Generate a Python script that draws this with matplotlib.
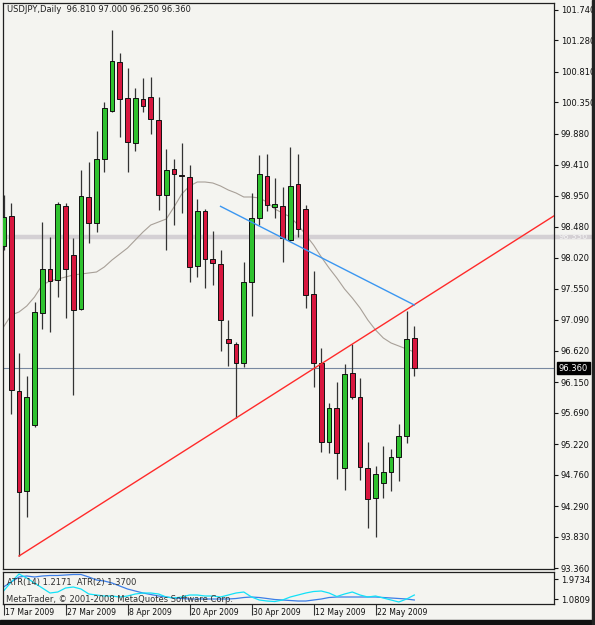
import matplotlib
matplotlib.use("agg")
import matplotlib.pyplot as plt
import matplotlib.transforms as mtransforms
import numpy as np
import pandas as pd

# ---- USDJPY daily bars, 17 Mar 2009 .. 29 May 2009 ----
opens = [98.195, 98.645, 96.02, 94.52, 95.51, 97.19, 97.85, 97.685, 98.795, 98.06,
         97.25, 98.93, 98.54, 99.50, 100.22, 100.955, 100.415, 99.74, 100.40, 100.43,
         100.085, 98.96, 99.35, 99.25, 99.23, 97.895, 98.72, 98.00, 97.925, 96.80,
         96.725, 96.44, 97.655, 98.615, 99.245, 98.78, 98.795, 98.285, 99.125, 98.75,
         97.475, 96.44, 95.255, 95.765, 94.865, 96.29, 95.93, 94.865, 94.415, 94.64,
         94.805, 95.03, 95.345, 96.81]
highs = [98.96, 98.84, 96.59, 96.245, 97.355, 98.555, 98.33, 98.855, 98.84, 98.315,
         99.335, 99.455, 99.92, 100.355, 101.435, 101.09, 100.865, 100.565, 100.715, 100.73,
         100.43, 99.65, 99.50, 99.74, 99.41, 98.90, 98.75, 98.42, 98.135, 97.085,
         96.755, 97.955, 98.99, 99.56, 99.575, 99.215, 99.08, 99.68, 99.575, 98.81,
         97.82, 96.665, 95.84, 96.155, 96.425, 96.725, 96.215, 95.255, 94.895, 95.195,
         95.15, 95.525, 97.22, 97.00]
lows = [98.13, 95.675, 93.545, 94.13, 95.48, 96.95, 96.905, 97.43, 97.115, 95.96,
        97.235, 98.24, 98.405, 99.305, 100.205, 99.83, 99.305, 99.62, 100.205, 99.875,
        98.735, 98.135, 98.51, 98.69, 97.655, 97.73, 97.565, 97.61, 96.62, 96.395,
        95.615, 96.38, 97.145, 98.51, 98.72, 98.615, 97.955, 98.27, 98.33, 97.265,
        96.08, 95.105, 95.09, 94.70, 94.535, 95.90, 94.685, 93.965, 93.83, 94.415,
        94.52, 94.67, 95.24, 96.25]
closes = [98.63, 96.035, 94.505, 95.93, 97.205, 97.85, 97.67, 98.825, 97.85, 97.235,
          98.945, 98.54, 99.50, 100.265, 100.97, 100.40, 99.755, 100.415, 100.295, 100.10,
          98.96, 99.335, 99.275, 99.245, 97.88, 98.72, 98.00, 97.94, 97.085, 96.74,
          96.44, 97.655, 98.615, 99.275, 98.81, 98.825, 98.315, 99.095, 98.45, 97.46,
          96.44, 95.255, 95.765, 95.09, 96.275, 95.93, 94.88, 94.40, 94.775, 94.805,
          95.03, 95.345, 96.80, 96.36]

# thin grey moving average
ma = [96.98, 97.16, 97.205, 97.295, 97.43, 97.61, 97.67, 97.70, 97.73, 97.76,
      97.775, 97.79, 97.805, 97.88, 97.985, 98.075, 98.165, 98.285, 98.405, 98.51,
      98.555, 98.60, 98.78, 98.975, 99.095, 99.155, 99.155, 99.14, 99.095, 99.035,
      98.99, 98.93, 98.93, 98.915, 98.855, 98.75, 98.69, 98.63, 98.51, 98.36,
      98.21, 98.03, 97.865, 97.715, 97.55, 97.415, 97.265, 97.085, 96.935, 96.815,
      96.74, 96.695, 96.65, 96.605]

# ATR sub-window
atr14 = [1.625, 1.851, 2.078, 2.123, 2.078, 2.123, 2.146, 2.146, 2.168, 2.191,
         2.191, 2.078, 1.941, 1.896, 1.806, 1.670, 1.534, 1.443, 1.353, 1.285,
         1.217, 1.172, 1.126, 1.104, 1.081, 1.081, 1.081, 1.081, 1.081, 1.081,
         1.104, 1.149, 1.172, 1.149, 1.104, 1.058, 1.036, 1.013, 0.990, 0.990,
         1.036, 1.081, 1.149, 1.172, 1.172, 1.172, 1.172, 1.172, 1.172, 1.149,
         1.126, 1.104, 1.081, 1.036]
atr2 = [1.443, 1.851, 2.213, 2.032, 1.806, 1.579, 1.353, 1.398, 1.579, 1.625,
        1.534, 1.308, 1.262, 1.217, 1.217, 1.172, 1.217, 1.308, 1.353, 1.353,
        1.308, 1.172, 1.126, 1.172, 1.262, 1.262, 1.217, 1.217, 1.172, 1.262,
        1.353, 1.398, 1.172, 1.036, 0.990, 0.967, 1.036, 1.172, 1.262, 1.353,
        1.421, 1.443, 1.353, 1.194, 1.308, 1.398, 1.262, 1.172, 1.217, 1.126,
        1.036, 0.945, 1.081, 1.262]

# drawn objects
red_trend_idx = [2, 30]
red_trend_px = [93.545, 95.615]
blue_trend_idx = [28, 53]
blue_trend_px = [98.79, 97.31]
hline_level = 98.336
last_close = 96.36

price_ticks = [101.740, 101.280, 100.810, 100.350, 99.880, 99.410, 98.950, 98.480,
               98.020, 97.550, 97.090, 96.620, 96.150, 95.690, 95.220, 94.760,
               94.290, 93.830, 93.360]
atr_ticks = [1.9734, 1.0809]
date_labels = ["17 Mar 2009", "27 Mar 2009", "8 Apr 2009", "20 Apr 2009",
               "30 Apr 2009", "12 May 2009", "22 May 2009"]

dates = pd.bdate_range("2009-03-17", periods=len(opens))

# ---- colours ----
BG = "#f4f4f0"
GREEN = "#2fc22f"
RED = "#d8173f"
WICK = "#333333"

W, H = 595, 625
fig = plt.figure(figsize=(W / 100, H / 100), dpi=100)
fig.patch.set_facecolor(BG)


def px_axes(left, top, right, bottom):
    return fig.add_axes([left / W, (H - bottom) / H, (right - left) / W, (bottom - top) / H])


ax = px_axes(3, 3, 554, 569)
ax2 = px_axes(3, 572, 554, 604)
for a in (ax, ax2):
    a.set_facecolor(BG)
    for sp in a.spines.values():
        sp.set_color("#202020")
        sp.set_linewidth(0.9)
    a.set_xlim(-0.065, 71.02)

o, h, l, c = map(np.asarray, (opens, highs, lows, closes))
idx = np.arange(len(o))
up = c >= o

# horizontal objects
ax.axhline(hline_level, color="#d4d0d4", lw=3.2, zorder=1)
ax.plot([1.0, 1.07], [hline_level, hline_level], color="#d4d0d4", lw=3.2,
        transform=ax.get_yaxis_transform(), clip_on=False, zorder=1)
ax.axhline(last_close, color="#7888a0", lw=0.8, zorder=1)

# moving average
ax.plot(idx, ma, color="#a8a098", lw=0.8, zorder=2)

# candles
ax.vlines(idx, l, h, color=WICK, lw=0.9, zorder=3)
ax.bar(idx, np.maximum(np.abs(c - o), 0.008), bottom=np.minimum(o, c), width=0.62,
       color=np.where(up, GREEN, RED), edgecolor="#111111", linewidth=0.7, zorder=4)

# trendlines
slope = (red_trend_px[1] - red_trend_px[0]) / (red_trend_idx[1] - red_trend_idx[0])
x_end = ax.get_xlim()[1]
ax.plot([red_trend_idx[0], x_end],
        [red_trend_px[0], red_trend_px[0] + slope * (x_end - red_trend_idx[0])],
        color="#ff2a2a", lw=1.0, zorder=5)
ax.plot(blue_trend_idx, blue_trend_px, color="#3a96f0", lw=1.0, zorder=5)

ax.set_ylim(93.35, 101.84)
ax.set_xticks([])
ax.yaxis.tick_right()
ax.set_yticks(price_ticks)
ax.set_yticklabels([f"{t:.3f}" for t in price_ticks])
ax.tick_params(axis="y", direction="out", length=3, width=0.8, pad=2,
               labelsize=6, colors="#111111")

ytr = ax.get_yaxis_transform()
ax.text(1.009, hline_level, f"{hline_level:.3f}", transform=ytr, ha="left", va="center",
        fontsize=6, color="#f2f2f2", zorder=6)
ax.text(1.009, last_close, f"{last_close:.3f}", transform=ytr, ha="left", va="center",
        fontsize=6, color="white", zorder=7,
        bbox=dict(boxstyle="square,pad=0.2", fc="black", ec="black"))

# ATR window
ax2.plot(idx, atr14, color="#3c7fe8", lw=0.9)
ax2.plot(idx, atr2, color="#12e2f8", lw=0.9)
ax2.set_ylim(0.855, 2.304)
ax2.yaxis.tick_right()
ax2.set_yticks(atr_ticks)
ax2.set_yticklabels([f"{t:.4f}" for t in atr_ticks])
ax2.tick_params(axis="y", direction="out", length=3, width=0.8, pad=2,
                labelsize=6, colors="#111111")

tick_idx = [dates.get_loc(pd.to_datetime(d, format="%d %b %Y")) for d in date_labels]
ax2.set_xticks(tick_idx)
ax2.set_xticklabels([])
ax2.tick_params(axis="x", direction="out", length=8, width=0.8, colors="#333333")
xtr = ax2.get_xaxis_transform()
for i, lab in zip(tick_idx, date_labels):
    ax2.text(i + 0.2, -0.28, lab, transform=xtr, ha="left", va="center",
             fontsize=5.6, color="#111111", clip_on=False)

# header texts
fig.text(7 / W, 1 - 10 / H, "USDJPY,Daily  96.810 97.000 96.250 96.360",
         ha="left", va="center", fontsize=6, color="#202020")
fig.text(7 / W, 1 - 582 / H, "ATR(14) 1.2171  ATR(2) 1.3700",
         ha="left", va="center", fontsize=6, color="#303030")
fig.text(6 / W, 1 - 600 / H, "MetaTrader, \u00a9 2001-2008 MetaQuotes Software Corp.",
         ha="left", va="center", fontsize=6, color="#303030")

# window frame
fig.patches.append(plt.Rectangle((0, 0), 1, 5 / H, transform=fig.transFigure,
                                 color="#111111", zorder=10))
fig.patches.append(plt.Rectangle((592 / W, 0), 3 / W, 1, transform=fig.transFigure,
                                 color="#222222", zorder=10))

fig.savefig("out.png", dpi=100, facecolor=BG)
